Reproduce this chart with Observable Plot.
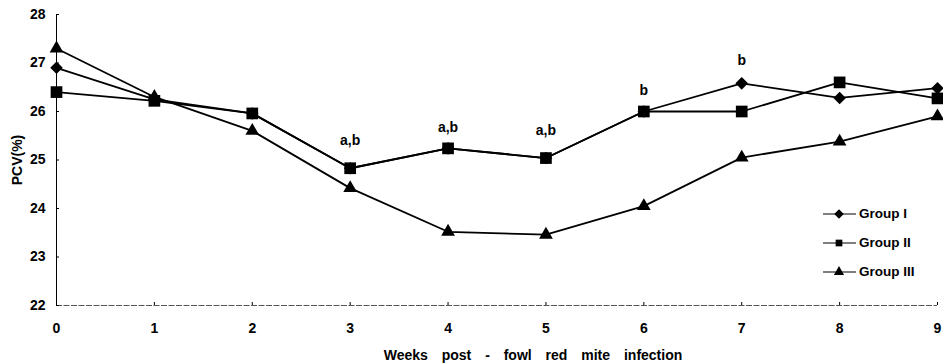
<!DOCTYPE html>
<html><head><meta charset="utf-8">
<script src="https://cdn.jsdelivr.net/npm/d3@7"></script>
<script src="https://cdn.jsdelivr.net/npm/@observablehq/plot@0.6"></script>
<style>
body{margin:0;background:#fff;}
#wrap{position:relative;width:943px;height:364px;font-family:"Liberation Sans",Arial,sans-serif;font-weight:bold;color:#000;}
#legend{position:absolute;left:823px;top:199px;font-size:13.5px;}
.row{display:flex;align-items:center;height:29px;}
.row svg{margin-right:3px;}
</style></head><body><div id="wrap"></div>
<script>
const weeks = [0, 1, 2, 3, 4, 5, 6, 7, 8, 9];
const groupI   = [26.9, 26.25, 25.96, 24.83, 25.24, 25.04, 26.0, 26.58, 26.28, 26.48];
const groupII  = [26.4, 26.22, 25.96, 24.83, 25.24, 25.04, 26.0, 26.0, 26.6, 26.27];
const groupIII = [27.3, 26.3, 25.6, 24.42, 23.52, 23.46, 24.05, 25.05, 25.38, 25.9];
const groupNames = ["Group I", "Group II", "Group III"];
const groupSymbols = ["diamond", "square", "triangle"];
const yTicks = [22, 23, 24, 25, 26, 27, 28];
const annWeeks = [3, 4, 5, 6, 7];
const annText = ["a,b", "a,b", "a,b", "b", "b"];
const annY = [25.4, 25.67, 25.6, 26.43, 27.05];
const xTitle = "Weeks post - fowl red mite infection";
const yTitle = "PCV(%)";

// wide diamond (rotated square) symbol
const wideDiamond = {
  draw(ctx, size) {
    const h = Math.sqrt(size / 2);
    ctx.moveTo(0, -h); ctx.lineTo(h, 0); ctx.lineTo(0, h); ctx.lineTo(-h, 0); ctx.closePath();
  }
};
const symMap = {diamond: wideDiamond, square: d3.symbolSquare, triangle: d3.symbolTriangle};

const series = [groupI, groupII, groupIII];
const rows = [];
series.forEach((vals, gi) => vals.forEach((v, i) => rows.push({week: weeks[i], value: v, group: groupNames[gi], sym: groupSymbols[gi]})));
const drawOrder = ["Group III", "Group I", "Group II"];
const ann = annWeeks.map((w, i) => ({week: w, y: annY[i], text: annText[i]}));

const marks = [
  Plot.ruleY([22], {stroke: "#555", strokeWidth: 1, strokeDasharray: "6,1.5"}),
  Plot.ruleX([0], {stroke: "#000", strokeWidth: 1}),
  Plot.axisX(weeks, {tickSize: -3, tickPadding: 21, tickFormat: d => d, label: null, fontSize: 14}),
  Plot.axisY(yTicks, {tickSize: -3, tickPadding: 14, label: null, fontSize: 14}),
  Plot.axisY({label: yTitle, labelAnchor: "center", labelOffset: 44, labelArrow: false, ticks: [], tickSize: 0, fontSize: 14})
];
for (const g of drawOrder) {
  const d = rows.filter(r => r.group === g);
  marks.push(Plot.line(d, {x: "week", y: "value", stroke: "#000", strokeWidth: 1.8}));
}
for (const g of drawOrder) {
  const d = rows.filter(r => r.group === g);
  const s = d[0].sym;
  const r = s === "square" ? 6.6 : s === "triangle" ? 5.1 : 5.0;
  marks.push(Plot.dot(d, {x: "week", y: "value", symbol: () => symMap[s], r, fill: "#000", stroke: "none"}));
}
marks.push(Plot.text(ann, {x: "week", y: "y", text: "text", fontSize: 14, fontWeight: "bold"}));
marks.push(Plot.text([xTitle], {frameAnchor: "bottom", dy: 54, dx: 36, text: d => d, fontSize: 14, fontWeight: "bold"}));

const chart = Plot.plot({
  width: 943, height: 364,
  marginLeft: 56, marginRight: 6, marginTop: 14, marginBottom: 59,
  x: {domain: [0, 9]},
  y: {domain: [22, 28]},
  symbol: {type: "identity"},
  style: {fontFamily: '"Liberation Sans", Arial, sans-serif', fontWeight: "bold", fontSize: "14px", color: "#000", background: "#fff"},
  marks
});
const wrap = document.getElementById("wrap");
wrap.appendChild(chart);
chart.querySelectorAll("text").forEach(t => {
  if (t.textContent === xTitle) t.setAttribute("word-spacing", "10px");
});

// legend
const legend = document.createElement("div");
legend.id = "legend";
groupNames.forEach((name, i) => {
  const row = document.createElement("div");
  row.className = "row";
  const svg = d3.create("svg").attr("width", 33).attr("height", 14);
  svg.append("line").attr("x1", 0).attr("x2", 33).attr("y1", 7).attr("y2", 7).attr("stroke", "#000").attr("stroke-width", 1.2);
  svg.append("path").attr("transform", "translate(16,7)").attr("d", d3.symbol(symMap[groupSymbols[i]], 45)()).attr("fill", "#000");
  row.appendChild(svg.node());
  const span = document.createElement("span");
  span.textContent = name;
  row.appendChild(span);
  legend.appendChild(row);
});
wrap.appendChild(legend);
</script>
</body></html>
